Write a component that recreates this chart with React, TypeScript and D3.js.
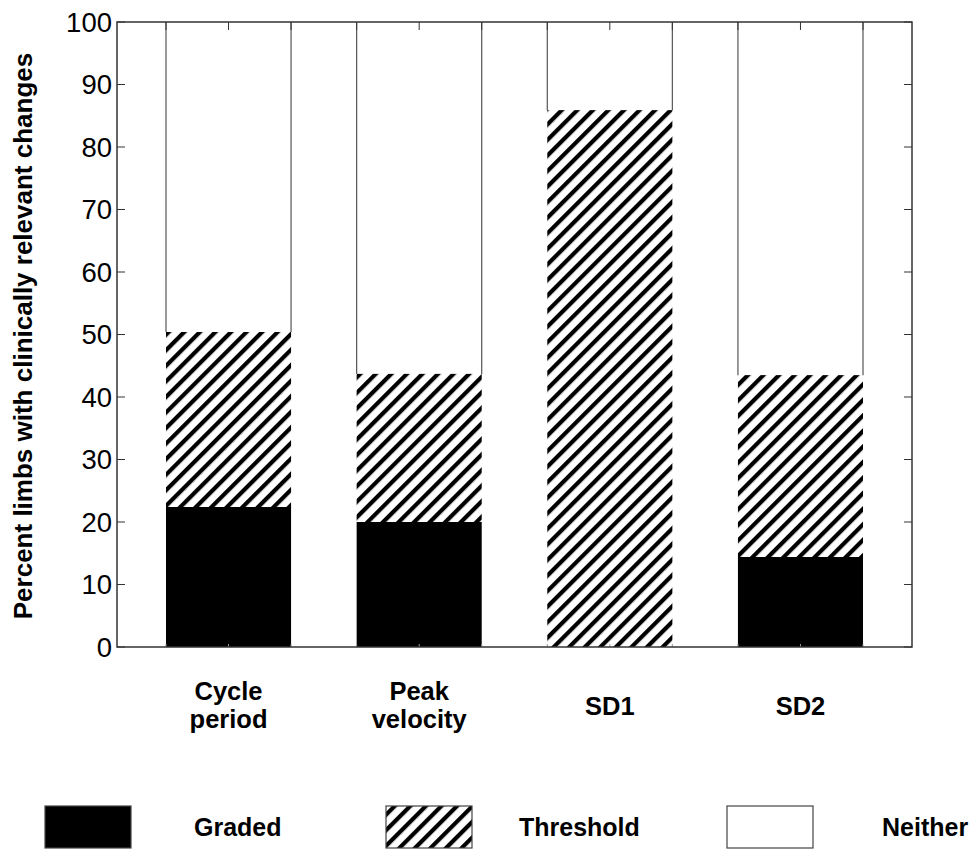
import React from "react";
import * as d3 from "d3";

const categories = ["Cycle period", "Peak velocity", "SD1", "SD2"];
const categoryLines = [["Cycle", "period"], ["Peak", "velocity"], ["SD1"], ["SD2"]];
const graded = [22.4, 20.0, 0, 14.4];
const threshold = [28.0, 23.7, 85.9, 29.1];
const yTicks = [0, 10, 20, 30, 40, 50, 60, 70, 80, 90, 100];
const legendLabels = ["Graded", "Threshold", "Neither"];

const W = 974, H = 852;
const L = 117, R = 912, T = 22, B = 647;

export default function App() {
  const x = d3.scaleLinear().domain([0.415, 4.585]).range([L, R]);
  const y = d3.scaleLinear().domain([0, 100]).range([B, T]);
  const bw = 0.656;
  const font = "Arial, 'Liberation Sans', Helvetica, sans-serif";
  const stacks = categories.map((c, i) => {
    const g = graded[i];
    const t = g + threshold[i];
    return { c, i, g, t };
  });
  const legX = [45, 386, 727];
  const legTextX = [194, 519, 882];
  return (
    <svg width={W} height={H} style={{ position: "absolute", left: 0, top: 0, background: "#fff" }} fontFamily={font}>
      <defs>
        <pattern id="hatch" patternUnits="userSpaceOnUse" width="11" height="11" patternTransform="rotate(45)">
          <rect width="11" height="11" fill="#fff" />
          <rect x="0" y="0" width="4.2" height="11" fill="#000" />
        </pattern>
      </defs>
      <rect width={W} height={H} fill="#fff" />
      {stacks.map(s => {
        const x0 = x(s.i + 1 - bw / 2), x1 = x(s.i + 1 + bw / 2);
        return (
          <g key={s.c}>
            {s.g > 0 && <rect x={x0} y={y(s.g)} width={x1 - x0} height={y(0) - y(s.g)} fill="#000" />}
            <rect x={x0} y={y(s.t)} width={x1 - x0} height={y(s.g) - y(s.t)} fill="url(#hatch)" />
            <line x1={x0} x2={x0} y1={y(100)} y2={y(s.t)} stroke="#555" strokeWidth={1.2} />
            <line x1={x1} x2={x1} y1={y(100)} y2={y(s.t)} stroke="#555" strokeWidth={1.2} />
          </g>
        );
      })}
      {yTicks.map(v => (
        <g key={v}>
          <line x1={L} x2={L + 8} y1={y(v)} y2={y(v)} stroke="#333" />
          <line x1={R - 8} x2={R} y1={y(v)} y2={y(v)} stroke="#333" />
          <text x={L - 5} y={y(v)} dy="0.36em" textAnchor="end" fontSize={27.5}>{v}</text>
        </g>
      ))}
      {categories.map((c, i) => [i + 1 - bw / 2, i + 1, i + 1 + bw / 2].map((v, k) => (
        <g key={c + k}>
          <line x1={x(v)} x2={x(v)} y1={T} y2={T + 8} stroke="#333" />
          <line x1={x(v)} x2={x(v)} y1={B} y2={B - 3} stroke="#999" />
        </g>
      )))}
      <rect x={L} y={T} width={R - L} height={B - T} fill="none" stroke="#333" strokeWidth={1.5} />
      {categoryLines.map((lines, i) => (
        <text key={i} x={x(i + 1)} y={lines.length > 1 ? 700 : 715} textAnchor="middle" fontWeight="bold" fontSize={25.5}>
          {lines.map((ln, k) => (
            <tspan key={k} x={x(i + 1)} dy={k === 0 ? 0 : 28}>{ln}</tspan>
          ))}
        </text>
      ))}
      <text transform={`translate(32,336) rotate(-90)`} textAnchor="middle" fontWeight="bold" fontSize={26}>
        Percent limbs with clinically relevant changes
      </text>
      {legendLabels.map((lab, i) => (
        <g key={lab}>
          <rect x={legX[i]} y={806} width={86} height={42}
            fill={i === 0 ? "#000" : i === 1 ? "url(#hatch)" : "#fff"} stroke="#444" strokeWidth={1.2} />
          <text x={legTextX[i]} y={827} dy="0.36em" fontWeight="bold" fontSize={25}>{lab}</text>
        </g>
      ))}
    </svg>
  );
}
